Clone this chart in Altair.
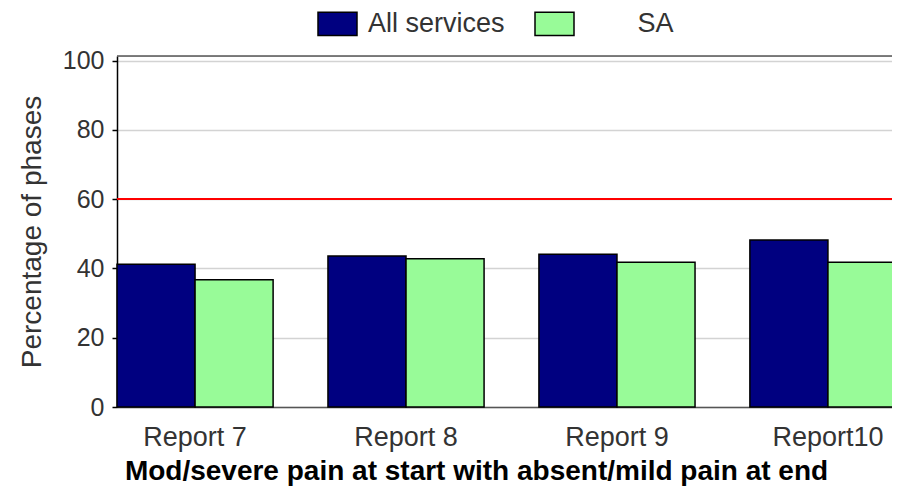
import altair as alt
import pandas as pd

reports = ["Report 7", "Report 8", "Report 9", "Report10"]
series = ["All services", "SA"]
all_services = [41.2, 43.6, 44.1, 48.2]
sa = [36.7, 42.8, 41.8, 41.8]
target = [60]
y_ticks = [0, 20, 40, 60, 80, 100]
colors = ["#000080", "#98FB98"]

rows = []
for i, r in enumerate(reports):
    rows.append({"report": r, "series": series[0], "value": all_services[i]})
    rows.append({"report": r, "series": series[1], "value": sa[i]})
df = pd.DataFrame(rows)
df_target = pd.DataFrame({"target": target})

YMAX = 101.3
W = 775
H = 351
FONT = "Liberation Sans"
PAD = "\u200b" + "\u00a0" * 7

bars = alt.Chart(df).mark_bar(stroke="black", strokeWidth=1.5).encode(
    x=alt.X(
        "report:N",
        sort=reports,
        scale=alt.Scale(range=[0, 789], paddingInner=0.26, paddingOuter=0),
        axis=alt.Axis(
            title="Mod/severe pain at start with absent/mild pain at end",
            labelAngle=0,
            ticks=False,
            labelFontSize=27,
            labelPadding=17,
            labelColor="#333333",
            labelFont=FONT,
            domainColor="#555555",
            domainWidth=1.5,
            titleFont=FONT,
            titleFontSize=28,
            titleFontWeight="bold",
            titleColor="black",
            titleX=359,
            titleY=72,
            titleAlign="center",
            titleBaseline="alphabetic",
        ),
    ),
    xOffset=alt.XOffset("series:N", sort=series,
                        scale=alt.Scale(paddingInner=0, paddingOuter=0)),
    y=alt.Y(
        "value:Q",
        scale=alt.Scale(domain=[0, YMAX], nice=False, zero=True),
        axis=alt.Axis(
            values=y_ticks,
            title="Percentage of phases",
            labelFont=FONT,
            labelFontSize=25,
            labelColor="#333333",
            labelPadding=8,
            tickSize=5,
            tickColor="black",
            tickWidth=1.5,
            domainColor="black",
            domainWidth=1.5,
            grid=True,
            gridColor="#d3d3d3",
            gridWidth=1.5,
            titleFont=FONT,
            titleFontSize=28,
            titleFontWeight="normal",
            titleColor="#333333",
            titleX=-85,
            titleY=H / 2,
            titleAngle=270,
            titleAlign="center",
            titleBaseline="middle",
        ),
    ),
    fill=alt.Fill(
        "series:N",
        sort=series,
        scale=alt.Scale(domain=series, range=colors),
        legend=alt.Legend(
            title=None,
            orient="none",
            legendX=200,
            legendY=-53,
            direction="horizontal",
            symbolType="M-1,-0.6H1V0.6H-1Z",
            symbolSize=1521,
            symbolStrokeColor="black",
            symbolStrokeWidth=1.5,
            symbolOpacity=1,
            labelFont=FONT,
            labelFontSize=27,
            labelColor="#333333",
            labelOffset=10,
            columnPadding=27,
            labelLimit=400,
            labelExpr="datum.label == 'SA' ? '" + PAD + "SA' : datum.label",
        ),
    ),
)

target_rule = alt.Chart(df_target).mark_rule(color="red", strokeWidth=2).encode(
    y=alt.Y("target:Q")
)

top_border = alt.Chart(df_target).mark_rule(color="#555555", strokeWidth=1.5).encode(
    y=alt.datum(YMAX)
)

chart = alt.layer(bars, target_rule, top_border).properties(
    width=W,
    height=H,
    autosize=alt.AutoSizeParams(type="none"),
    padding={"left": 109, "top": 48, "right": 0, "bottom": 80},
).configure_view(stroke=None).configure(background="white")

chart.save("out.html", embed_options={"renderer": "svg", "actions": False})
